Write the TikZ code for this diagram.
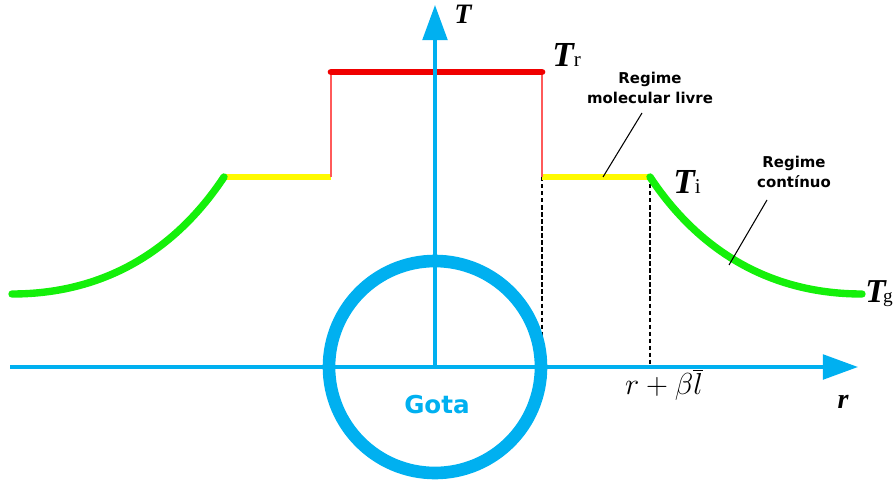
\documentclass[tikz,border=0pt]{standalone}
\usepackage{fontspec}
\setmainfont{Liberation Serif}
\newfontfamily\labelsans{DejaVu Sans}
\usetikzlibrary{arrows.meta}
\definecolor{gotaBlue}{RGB}{0,176,240}
\definecolor{regRed}{RGB}{240,0,0}
\definecolor{regSoftRed}{RGB}{255,90,90}
\definecolor{regYellow}{RGB}{255,250,0}
\definecolor{regGreen}{RGB}{20,240,10}

\begin{document}
\begin{tikzpicture}[
  x=0.02cm,y=-0.02cm,
  axis/.style={gotaBlue,line width=2.1pt,-{Triangle[length=20pt,width=14pt]}},
  freeline/.style={regRed,line width=3.8pt,line cap=round},
  knudline/.style={regYellow,line width=3.2pt},
  contline/.style={regGreen,line width=4.2pt,line cap=round},
  wall/.style={regSoftRed,line width=0.8pt},
  guide/.style={black,line width=0.6pt,dash pattern=on 2.5pt off 1.5pt},
  leader/.style={black,line width=0.6pt},
  templabel/.style={inner sep=0pt,anchor=base west},
  regimelabel/.style={inner sep=0pt,align=center,font=\labelsans\bfseries\fontsize{8.5}{11.2}\selectfont}
]
\useasboundingbox (0,0) rectangle (893,490);

% key points of the profile
\coordinate (o) at (435,367);
\coordinate (rstart) at (10,367);
\coordinate (rend) at (858,367);
\coordinate (tend) at (435,5);
\coordinate (rl) at (331,72);
\coordinate (rr) at (542,72);
\coordinate (yl) at (331,177);
\coordinate (yr) at (542,177);
\coordinate (il) at (224,177);
\coordinate (ir) at (650,177);
\coordinate (gl) at (12,294);
\coordinate (gr) at (862,294);
\coordinate (dr) at (542,367);
\coordinate (di) at (650,367);

% dashed guides
\draw[guide] (yr) -- (dr);
\draw[guide] (ir) -- (di);

% temperature profile
\draw[knudline] (il) -- (yl);
\draw[knudline] (yr) -- (ir);
\draw[contline] (il) .. controls (179,245) and (110,294) .. (gl);
\draw[contline] (ir) .. controls (695,245) and (764,294) .. (gr);
\draw[wall] (rl) -- (yl);
\draw[wall] (rr) -- (yr);
\draw[freeline] (rl) -- (rr);

% axes and droplet
\draw[axis] (rstart) -- (rend);
\draw[axis] (o) -- (tend);
\draw[gotaBlue,line width=7.2pt] (o) circle[radius=106];

% labels
\node[inner sep=0pt,font=\fontsize{16}{16}\selectfont\bfseries\itshape] (tlab) at (463,14) {T};
\node[templabel] (tr) at (552,66) {{\fontsize{20}{20}\selectfont\bfseries\itshape T}{\fontsize{12}{12}\selectfont r}};
\node[templabel] (ti) at (673,193) {{\fontsize{20}{20}\selectfont\bfseries\itshape T}{\fontsize{12}{12}\selectfont i}};
\node[templabel] (tg) at (865,302) {{\fontsize{19}{19}\selectfont\bfseries\itshape T}\kern-1.5pt{\fontsize{11}{11}\selectfont g}};
\node[inner sep=0pt,font=\fontsize{16}{16}\selectfont\bfseries\itshape] (rlab) at (843,402) {r};
\node[inner sep=0pt,font=\fontsize{17}{17}\selectfont] (rbeta) at (664,385) {$r+\beta\overline{l}$};
\node[inner sep=0pt,gotaBlue,font=\labelsans\bfseries\fontsize{14}{14}\selectfont] (gota) at (437,405) {Gota};

\node[regimelabel] (mol) at (650,88) {Regime\\molecular livre};
\node[regimelabel] (cont) at (794,172) {Regime\\contínuo};
\coordinate (mola) at (642,113);
\coordinate (molb) at (603,177);
\coordinate (conta) at (767,200);
\coordinate (contb) at (729,265);
\draw[leader] (mola) -- (molb);
\draw[leader] (conta) -- (contb);
\end{tikzpicture}
\end{document}
